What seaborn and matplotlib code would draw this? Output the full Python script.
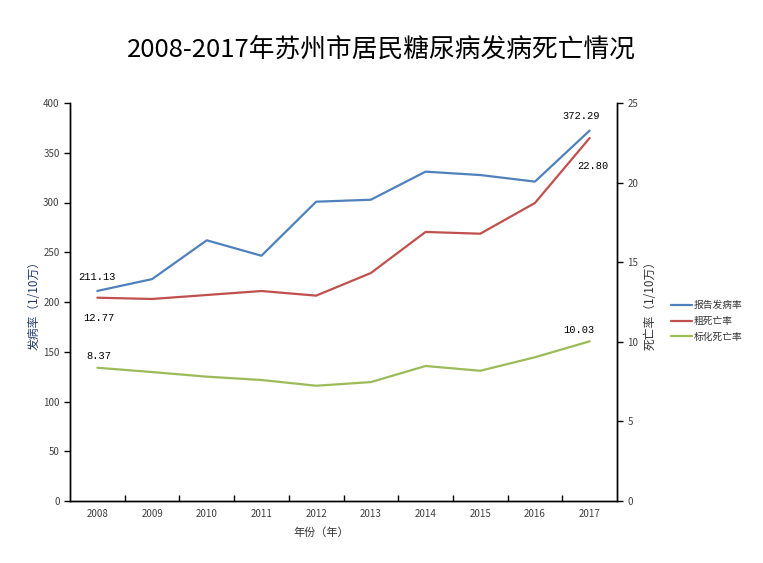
import pandas as pd
import seaborn as sns
import matplotlib.pyplot as plt
from matplotlib.ticker import FixedLocator

years = ["2008", "2009", "2010", "2011", "2012", "2013", "2014", "2015", "2016", "2017"]
incidence = [211.13, 223.0, 262.0, 246.5, 300.8, 302.8, 331.0, 327.6, 321.0, 372.29]
crude_death = [12.77, 12.69, 12.94, 13.19, 12.90, 14.32, 16.90, 16.79, 18.72, 22.80]
std_death = [8.37, 8.10, 7.81, 7.60, 7.24, 7.47, 8.48, 8.18, 9.03, 10.03]

names = ["报告发病率", "粗死亡率", "标化死亡率"]
colors = ["#4F81BD", "#C0504D", "#9BBB59"]

sns.set_theme(style="white")
plt.rcParams['font.family'] = ['Noto Sans CJK SC', 'DejaVu Sans']

df_inc = pd.DataFrame({"year": years, "value": incidence})
df_crude = pd.DataFrame({"year": years, "value": crude_death})
df_std = pd.DataFrame({"year": years, "value": std_death})

fig = plt.figure(figsize=(7.63, 5.63), dpi=100)
ax = fig.add_axes([70 / 763, 1 - 501 / 563, 547 / 763, 398 / 563])
ax2 = ax.twinx()

sns.lineplot(data=df_inc, x="year", y="value", ax=ax, color=colors[0], linewidth=1.6, sort=False)
sns.lineplot(data=df_crude, x="year", y="value", ax=ax2, color=colors[1], linewidth=1.6, sort=False)
sns.lineplot(data=df_std, x="year", y="value", ax=ax2, color=colors[2], linewidth=1.6, sort=False)

ax.set_xlim(-0.5, len(years) - 0.5)
ax.set_ylim(0, 400)
ax2.set_ylim(0, 25)
ax.set_yticks(range(0, 401, 50))
ax2.set_yticks(range(0, 26, 5))

tick_color = "#404040"
ax.set_xticks(range(len(years)))
ax.set_xticklabels(years)
ax.xaxis.set_minor_locator(FixedLocator([i + 0.5 for i in range(len(years) - 1)]))
ax.tick_params(axis="x", which="major", length=0, labelsize=7, colors=tick_color, pad=6)
ax.xaxis.set_tick_params(which="minor", length=4, direction="in", width=1, color="black", bottom=True)
ax.tick_params(axis="y", length=4, direction="out", width=1, color="black", labelsize=7,
               labelcolor=tick_color, left=True)
ax2.tick_params(axis="y", length=4, direction="out", width=1, color="black", labelsize=7,
                labelcolor=tick_color, right=True)

for a in (ax, ax2):
    a.grid(False)
    a.spines["top"].set_visible(False)
    for s in ("left", "right", "bottom"):
        a.spines[s].set_color("black")
        a.spines[s].set_linewidth(1)

ax.set_xlabel("年份（年）", fontsize=8, color="#333333", labelpad=3)
ax.xaxis.set_label_coords(0.46, -0.065)
ax.set_ylabel("发病率（1/10万）", fontsize=8.5, color="#1F3A68", labelpad=2)
ax2.set_ylabel("死亡率（1/10万）", fontsize=8.5, color="#333333", labelpad=4)

fig.suptitle("2008-2017年苏州市居民糖尿病发病死亡情况", fontsize=18.5, y=0.935, color="black")

# data labels on first and last points
lab_kw = dict(fontsize=7.5, family=["Liberation Mono", "DejaVu Sans Mono"], ha="center", color="black")
ax.annotate(f"{incidence[0]:.2f}", (0, incidence[0]), xytext=(0, 8), textcoords="offset points", **lab_kw)
ax.annotate(f"{incidence[-1]:.2f}", (9, incidence[-1]), xytext=(-6, 8), textcoords="offset points", **lab_kw)
ax2.annotate(f"{crude_death[0]:.2f}", (0, crude_death[0]), xytext=(1, -17), textcoords="offset points", **lab_kw)
ax2.annotate(f"{crude_death[-1]:.2f}", (9, crude_death[-1]), xytext=(2, -22), textcoords="offset points", **lab_kw)
ax2.annotate(f"{std_death[0]:.2f}", (0, std_death[0]), xytext=(1, 6), textcoords="offset points", **lab_kw)
ax2.annotate(f"{std_death[-1]:.2f}", (9, std_death[-1]), xytext=(-8, 6), textcoords="offset points", **lab_kw)

handles = [plt.Line2D([], [], color=c, linewidth=1.6) for c in colors]
fig.legend(handles, names, loc="center left", bbox_to_anchor=(662 / 763, 1 - 321 / 563),
           frameon=False, fontsize=7, handlelength=2.2, handletextpad=0.15,
           labelspacing=0.6, labelcolor="#333333")

fig.savefig("out.png", dpi=100)
